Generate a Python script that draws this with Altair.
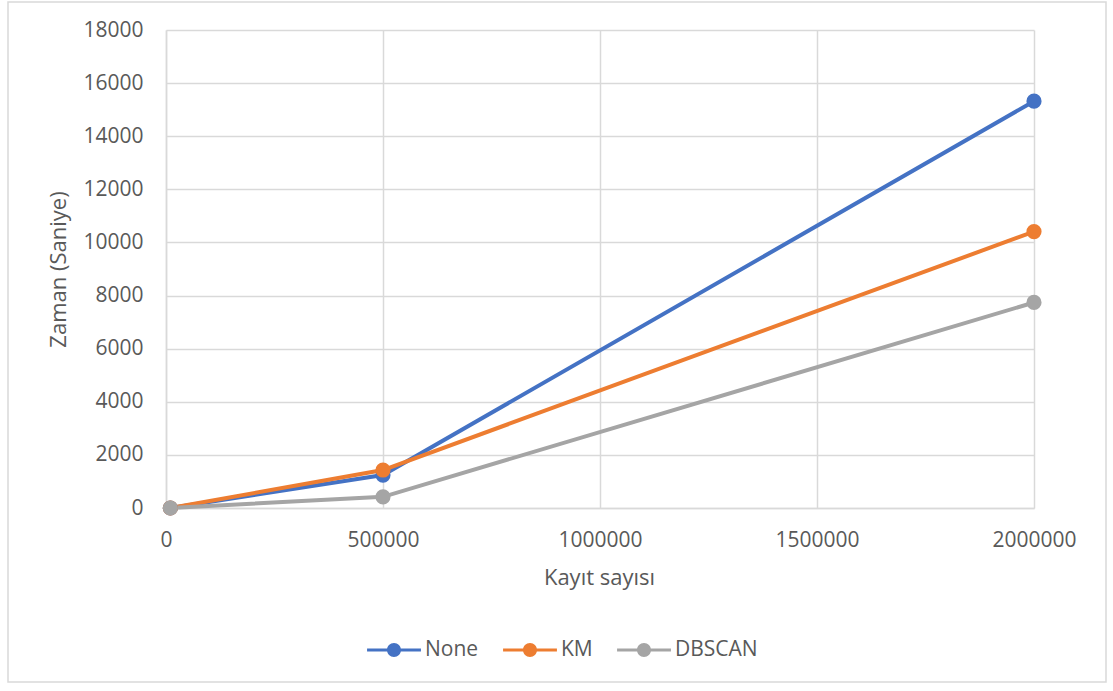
import altair as alt
import pandas as pd

# Record counts and measured run times (seconds) per clustering method
records = [10000, 500000, 2000000]
series_names = ["None", "KM", "DBSCAN"]
time_none = [0, 1240, 15320]
time_km = [0, 1430, 10410]
time_dbscan = [0, 420, 7740]
colors = ["#4472C4", "#ED7D31", "#A5A5A5"]

rows = []
for name, vals in zip(series_names, [time_none, time_km, time_dbscan]):
    for r, v in zip(records, vals):
        rows.append({"records": r, "seconds": v, "series": name})
df = pd.DataFrame(rows)

FONT = "Open Sans"
TEXT = "#595959"
GRID = "#D9D9D9"

# legend glyph: a short bar on each side of a filled dot (all filled shapes)
LEGEND_GLYPH = (
    "M-1,-0.06L-0.255,-0.06L-0.255,0.06L-1,0.06Z"
    "M0.255,-0.06L1,-0.06L1,0.06L0.255,0.06Z"
    "M-0.26,0A0.26,0.26 0 1,1 0.26,0A0.26,0.26 0 1,1 -0.26,0Z"
)

x_enc = alt.X(
    "records:Q",
    scale=alt.Scale(domain=[0, 2000000], nice=False),
    axis=alt.Axis(
        title="Kayıt sayısı",
        values=[0, 500000, 1000000, 1500000, 2000000],
        format="d",
        ticks=False, tickSize=0,
        labelFlush=False,
        labelPadding=38, labelBaseline="alphabetic",
        titleX=433, titleY=76, titleBaseline="alphabetic",
        titleAnchor="middle",
    ),
)
y_enc = alt.Y(
    "seconds:Q",
    scale=alt.Scale(domain=[0, 18000], nice=False),
    axis=alt.Axis(
        title="Zaman (Saniye)",
        values=list(range(0, 18001, 2000)),
        format="d",
        ticks=False, tickSize=0,
        labelFlush=False,
        labelPadding=23,
        titleX=-101, titleY=239, titleBaseline="alphabetic",
        titleAnchor="middle",
    ),
)
color_scale = alt.Scale(domain=series_names, range=colors)
legend = alt.Legend(
    orient="none",
    direction="horizontal",
    legendX=201,
    legendY=593,
    symbolType=LEGEND_GLYPH,
    symbolSize=2900,
    symbolStrokeWidth=0,
    symbolOpacity=1,
    labelOffset=4,
    columnPadding=24,
)
color_enc = alt.Color(
    "series:N", title=None, sort=series_names, scale=color_scale, legend=legend
)

lines = alt.Chart(df).mark_line(strokeWidth=4).encode(
    x=x_enc, y=y_enc, color=color_enc
)
points = alt.Chart(df).mark_point(filled=True, size=230, opacity=1).encode(
    x=x_enc, y=y_enc, color=color_enc
)

# light frame around the whole chart
frame = alt.Chart(alt.Data(values=[{}])).mark_rect(
    filled=False, stroke=GRID, strokeWidth=1.5
).encode(
    x=alt.value(-158), x2=alt.value(940),
    y=alt.value(-28), y2=alt.value(652),
)

chart = alt.layer(frame, lines, points).properties(
    width=868,
    height=478,
    autosize=alt.AutoSizeParams(type="none"),
    padding={"left": 166, "top": 30, "right": 79, "bottom": 183},
    background="white",
).configure_view(
    stroke=None
).configure_axis(
    labelFont=FONT, labelFontSize=21, labelColor=TEXT,
    titleFont=FONT, titleFontSize=22, titleColor=TEXT, titleFontWeight="normal",
    grid=True, gridColor=GRID, gridWidth=1.5,
    domainColor=GRID, domainWidth=1.5,
).configure_legend(
    labelFont=FONT, labelFontSize=21, labelColor=TEXT,
)

chart.save("out.html", embed_options={"renderer": "svg", "actions": False})
